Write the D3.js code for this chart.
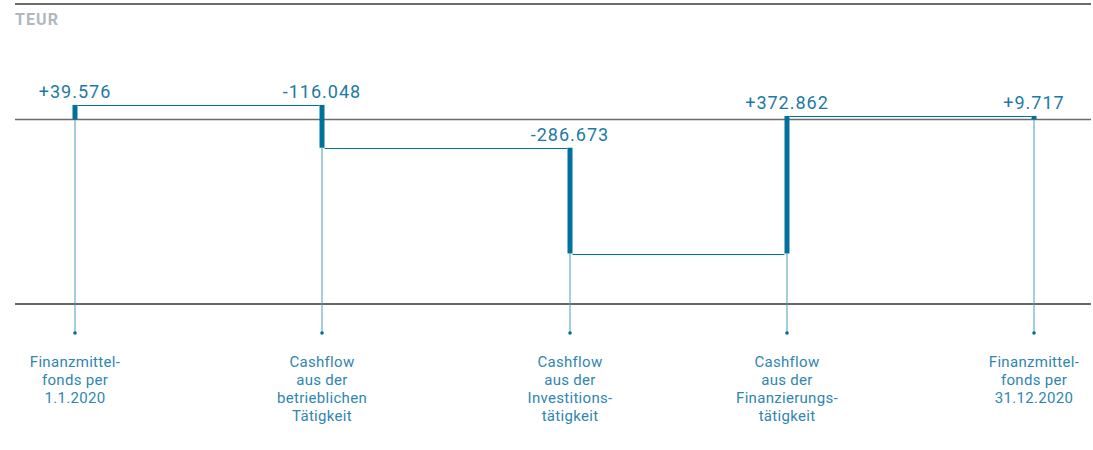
<!DOCTYPE html>
<html lang="de">
<head>
<meta charset="utf-8">
<script src="https://cdn.jsdelivr.net/npm/d3@7"></script>
<style>
  html, body { margin: 0; padding: 0; background: #fff; }
  svg { display: block; }
</style>
</head>
<body>
<svg id="chart" width="1093" height="450"></svg>
<script>
// Kapitalflussrechnung 2020 als Wasserfall (Werte in TEUR)
const categories = [
  ["Finanzmittel-", "fonds per", "1.1.2020"],
  ["Cashflow", "aus der", "betrieblichen", "Tätigkeit"],
  ["Cashflow", "aus der", "Investitions-", "tätigkeit"],
  ["Cashflow", "aus der", "Finanzierungs-", "tätigkeit"],
  ["Finanzmittel-", "fonds per", "31.12.2020"]
];
const values = [39576, -116048, -286673, 372862, 9717];
// Anfangs- und Endbestand starten bei null, die Cashflows beim laufenden Saldo
const isTotal = [true, false, false, false, true];
const axisValues = [0, -500000];
const unitLabel = "TEUR";

const colBar = "#00709c";
const colText = "#1c7aa6";
const colLabel = "#2f86b0";
const colStem = "#4a98be";

const de = d3.formatLocale({ decimal: ",", thousands: ".", grouping: [3], currency: ["", " €"], minus: "-" });
const fmt = de.format("+,");

const svg = d3.select("#chart");

const keys = categories.map((c, i) => i);
const x = d3.scaleOrdinal().domain(keys).range([75, 322, 570, 787, 1034]);
const y = d3.scaleLinear().domain([0, -500000]).range([119.5, 304]);

// Start-/Endpunkte jedes Balkens
let run = 0;
const steps = values.map((v, i) => {
  const start = isTotal[i] ? 0 : run;
  const end = start + v;
  run = end;
  return { i, v, start, end, hi: Math.max(start, end), lo: Math.min(start, end) };
});

// obere Rahmenlinie
svg.append("line")
  .attr("x1", 15).attr("x2", 1091).attr("y1", 4).attr("y2", 4)
  .attr("stroke", "#3a3a3a").attr("stroke-width", 1.3);

svg.append("text")
  .attr("x", 15).attr("y", 24.5)
  .attr("font-family", "Roboto, sans-serif")
  .attr("font-weight", 700).attr("font-size", 16)
  .attr("letter-spacing", 1.1)
  .attr("fill", "#b0b7bd")
  .text(unitLabel);

// Achsenlinien bei 0 und -500.000
svg.selectAll("line.axis").data(axisValues).join("line")
  .attr("class", "axis")
  .attr("x1", 15).attr("x2", 1091)
  .attr("y1", d => y(d)).attr("y2", d => y(d))
  .attr("stroke", (d, i) => i === 0 ? "#6b6b6b" : "#333")
  .attr("stroke-width", 1.3);

// Verbindungslinien zum jeweils nächsten Balken
svg.selectAll("line.conn").data(steps.slice(0, -1)).join("line")
  .attr("class", "conn")
  .attr("x1", d => x(d.i) + 2.5)
  .attr("x2", d => x(d.i + 1) - 2.5)
  .attr("y1", d => Math.round(y(d.end)) + 0.5)
  .attr("y2", d => Math.round(y(d.end)) + 0.5)
  .attr("stroke", colBar).attr("stroke-width", 1);

// Stiele von der Balkenunterkante zur Beschriftung
svg.selectAll("line.stem").data(steps).join("line")
  .attr("class", "stem")
  .attr("x1", d => x(d.i)).attr("x2", d => x(d.i))
  .attr("y1", d => y(d.lo)).attr("y2", 333)
  .attr("stroke", colStem).attr("stroke-width", 1);

svg.selectAll("circle.dot").data(steps).join("circle")
  .attr("class", "dot")
  .attr("cx", d => x(d.i)).attr("cy", 333).attr("r", 1.8)
  .attr("fill", colBar);

// Balken
svg.selectAll("rect.bar").data(steps).join("rect")
  .attr("class", "bar")
  .attr("x", d => x(d.i) - 2.5)
  .attr("width", 5)
  .attr("y", d => y(d.hi))
  .attr("height", d => Math.max(3.5, y(d.lo) - y(d.hi)))
  .attr("fill", colBar);

// Wertbeschriftungen
svg.selectAll("text.val").data(steps).join("text")
  .attr("class", "val")
  .attr("x", d => x(d.i))
  .attr("y", d => y(d.hi) - 6.5)
  .attr("text-anchor", "middle")
  .attr("font-family", "Roboto, sans-serif")
  .attr("font-size", 18)
  .attr("letter-spacing", 1)
  .attr("fill", colText)
  .text(d => fmt(d.v));

// Kategorienbeschriftungen
const lab = svg.selectAll("text.cat").data(categories).join("text")
  .attr("class", "cat")
  .attr("text-anchor", "middle")
  .attr("font-family", "Roboto, sans-serif")
  .attr("font-size", 15)
  .attr("letter-spacing", 0.3)
  .attr("fill", colLabel);
lab.selectAll("tspan").data((d, i) => d.map(t => ({ t, i }))).join("tspan")
  .attr("x", d => x(d.i))
  .attr("y", (d, j) => 366.5 + j * 18.3)
  .text(d => d.t);
</script>
</body>
</html>
